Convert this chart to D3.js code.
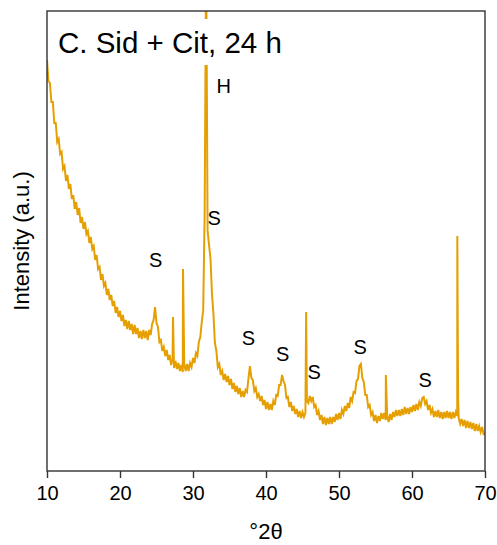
<!DOCTYPE html>
<html>
<head>
<meta charset="utf-8">
<script src="https://cdn.jsdelivr.net/npm/d3@7"></script>
<style>
  html, body { margin: 0; padding: 0; background: #fff; }
  svg { display: block; font-family: "Liberation Sans", Arial, sans-serif; }
</style>
</head>
<body>
<svg id="chart" width="497" height="545"></svg>
<script>
// ---- data ----
const xTicks = [10, 20, 30, 40, 50, 60, 70];
const angleStart = 10, angleStep = 0.2; // scan grid, °2θ
const intensity = [
  411,390,388,369,369,348,348,329,332,317,319,302,305,290,296,282,287,272,276,262,269,256,263,248,254,242,
  249,237,240,228,234,222,225,211,216,202,204,191,197,185,188,176,182,171,176,165,170,158,164,154,160,
  150,156,145,151,142,150,141,147,137,146,137,143,133,140,132,141,133,140,131,141,136,147,151,164,148,144,129,131,120,124,
  115,121,111,116,106,112,103,110,102,108,100,106,99,107,100,107,100,108,104,113,108,118,115,129,134,149,161,260,520,240,
  226,212,177,157,128,120,104,107,96,100,91,97,89,95,86,92,82,88,79,85,77,83,74,80,74,81,79,93,105,93,91,80,83,74,77,
  70,75,66,71,62,69,61,67,61,70,66,76,75,86,86,96,90,86,73,74,64,69,60,65,57,62,54,60,53,59,54,58,
  70,68,75,70,74,64,66,56,60,51,56,47,54,46,53,47,54,47,54,49,57,51,58,52,61,57,65,60,68,63,74,70,79,78,90,92,105,107,93,89,76,76,64,66,56,59,50,56,48,55,50,58,52,58,51,55,49,
  57,51,59,54,61,55,61,55,62,56,64,57,63,57,64,59,66,60,67,61,69,65,73,74,67,70,61,66,58,62,54,60,54,61,53,59,52,59,53,60,53,59,52,59,53,59,55,53,47,52,45,51,43,50,43,49,42,48,40,47,40,45,39,44,37,38
];
// narrow reflections between grid points
const sharpPos = [27.26, 28.63, 45.5, 56.42, 66.21, 66.26, 66.32];
const sharpInt = [154, 202, 159, 96, 235, 150, 70];
// phase labels
const labelText = ["H", "S", "S", "S", "S", "S", "S", "S"];
const labelPos = [34.2, 24.9, 32.9, 37.6, 42.3, 46.6, 52.9, 61.8];
const labelInt = [378, 204, 246, 126, 110, 92, 117, 84];
const title = "C. Sid + Cit, 24 h";
const xTitle = "°2θ";
const yTitle = "Intensity (a.u.)";

// ---- layout ----
const W = 497, H = 545;
const m = { left: 47, top: 11, right: 12, bottom: 74 };
const pw = W - m.left - m.right, ph = H - m.top - m.bottom;
const orange = "#E69F00", ink = "#333";

const svg = d3.select("#chart");
const x = d3.scaleLinear().domain([10, 70]).range([m.left, m.left + pw]);
const y = d3.scaleLinear().domain([0, 460]).range([m.top + ph, m.top]);

let pts = intensity.map((v, i) => [angleStart + i * angleStep, v]);
sharpPos.forEach((p, i) => pts.push([p, sharpInt[i]]));
pts.sort((a, b) => a[0] - b[0]);

svg.append("clipPath").attr("id", "clip")
  .append("rect").attr("x", m.left).attr("y", m.top).attr("width", pw).attr("height", ph);

svg.append("path")
  .datum(pts)
  .attr("clip-path", "url(#clip)")
  .attr("fill", "none")
  .attr("stroke", orange)
  .attr("stroke-width", 2)
  .attr("stroke-linejoin", "miter")
  .attr("d", d3.line().x(d => x(d[0])).y(d => y(d[1])));

// title with white background
svg.append("rect").attr("x", 54).attr("y", 19).attr("width", 238).attr("height", 46).attr("fill", "#fff");
svg.append("text").attr("x", 58).attr("y", 53).attr("font-size", 29.5).attr("fill", "#000").text(title);

// phase labels
svg.append("g").selectAll("text").data(labelText).join("text")
  .attr("x", (d, i) => x(labelPos[i]))
  .attr("y", (d, i) => y(labelInt[i]))
  .attr("text-anchor", "middle")
  .attr("font-size", 20)
  .attr("fill", "#000")
  .text(d => d);

// frame
svg.append("rect").attr("x", m.left).attr("y", m.top).attr("width", pw).attr("height", ph)
  .attr("fill", "none").attr("stroke", ink).attr("stroke-width", 1.4);

// x axis
const gx = svg.append("g").attr("transform", `translate(0,${m.top + ph})`)
  .call(d3.axisBottom(x).tickValues(xTicks).tickSize(7).tickPadding(8).tickFormat(d3.format("d")));
gx.select(".domain").remove();
gx.selectAll(".tick line").attr("stroke", ink).attr("stroke-width", 1.4);
gx.selectAll(".tick text").attr("font-size", 20).attr("fill", "#000")
  .attr("font-family", "\"Liberation Sans\", Arial, sans-serif");

svg.append("text").attr("x", m.left + pw / 2).attr("y", 539).attr("text-anchor", "middle")
  .attr("font-size", 22).attr("fill", "#000").text(xTitle);
svg.append("text").attr("transform", `translate(29,${m.top + ph / 2}) rotate(-90)`)
  .attr("text-anchor", "middle").attr("font-size", 22).attr("fill", "#000").text(yTitle);
</script>
</body>
</html>
